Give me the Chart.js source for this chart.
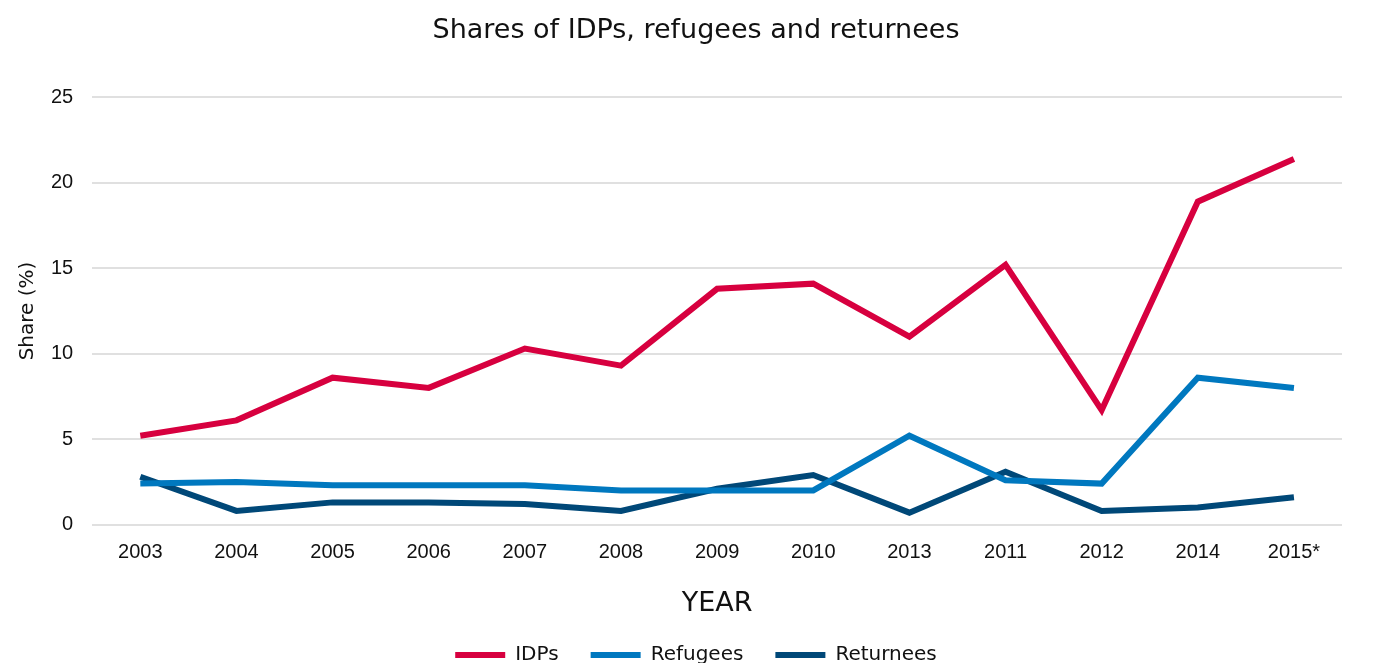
<!DOCTYPE html>
<html>
<head>
<meta charset="utf-8">
<script src="https://cdn.jsdelivr.net/npm/chart.js@4"></script>
<style>
  html, body { margin: 0; padding: 0; background: #ffffff; }
  #wrap { width: 1378px; height: 663px; }
</style>
</head>
<body>
<div id="wrap"><canvas id="chart"></canvas></div>
<script>
// Survey years, in the order they are reported
const years = ['2003', '2004', '2005', '2006', '2007', '2008', '2009', '2010', '2013', '2011', '2012', '2014', '2015*'];

// Share of each group (%)
const idps      = [5.2, 6.1, 8.6, 8.0, 10.3, 9.3, 13.8, 14.1, 11.0, 15.2, 6.7, 18.9, 21.4];
const refugees  = [2.4, 2.5, 2.3, 2.3, 2.3, 2.0, 2.0, 2.0, 5.2, 2.6, 2.4, 8.6, 8.0];
const returnees = [2.8, 0.8, 1.3, 1.3, 1.2, 0.8, 2.1, 2.9, 0.7, 3.1, 0.8, 1.0, 1.6];

const yTicks = [0, 5, 10, 15, 20, 25];

const COLORS = { idps: '#d7003f', refugees: '#0078bf', returnees: '#004878' };
const sansTitle = '"DejaVu Sans", Verdana, sans-serif';
const sansTick = '"Liberation Sans", Arial, sans-serif';

function series(label, data, color) {
  return {
    label, data,
    borderColor: color,
    backgroundColor: color,
    borderWidth: 6,
    pointRadius: 0,
    pointHoverRadius: 0,
    tension: 0,
    fill: false,
    borderJoinStyle: 'miter',
    borderCapStyle: 'butt'
  };
}

new Chart(document.getElementById('chart'), {
  type: 'line',
  data: {
    labels: years,
    datasets: [
      series('IDPs', idps, COLORS.idps),
      series('Refugees', refugees, COLORS.refugees),
      series('Returnees', returnees, COLORS.returnees)
    ]
  },
  options: {
    responsive: true,
    maintainAspectRatio: false,
    animation: false,
    layout: { padding: { left: 14, right: 0, top: 0, bottom: -12 } },
    plugins: {
      title: {
        display: true,
        text: 'Shares of IDPs, refugees and returnees',
        color: '#111111',
        font: { family: sansTitle, size: 27, weight: 'normal' },
        padding: { top: 15, bottom: 50 }
      },
      legend: {
        position: 'bottom',
        labels: {
          color: '#111111',
          font: { family: sansTitle, size: 20 },
          boxWidth: 50,
          boxHeight: 6,
          padding: 32,
          generateLabels(chart) {
            return chart.data.datasets.map((ds, i) => ({
              text: ds.label,
              fillStyle: ds.borderColor,
              strokeStyle: ds.borderColor,
              lineWidth: 0,
              hidden: false,
              datasetIndex: i,
              fontColor: '#111111'
            }));
          }
        }
      },
      tooltip: { enabled: false }
    },
    scales: {
      x: {
        offset: true,
        grid: { display: false, drawTicks: false },
        border: { display: false },
        ticks: {
          color: '#111111',
          font: { family: sansTick, size: 20 },
          padding: 16,
          maxRotation: 0,
          autoSkip: false
        },
        title: {
          display: true,
          text: 'YEAR',
          color: '#111111',
          font: { family: sansTitle, size: 27, weight: 'normal' },
          padding: { top: 7, bottom: -7 }
        }
      },
      y: {
        min: yTicks[0],
        max: yTicks[yTicks.length - 1],
        afterBuildTicks(scale) { scale.ticks = yTicks.map(v => ({ value: v })); },
        grid: { color: '#e0e0e0', lineWidth: 2, drawTicks: false },
        border: { display: false },
        ticks: {
          color: '#111111',
          font: { family: sansTick, size: 20 },
          padding: 19
        },
        title: {
          display: true,
          text: 'Share (%)',
          color: '#111111',
          font: { family: sansTitle, size: 20 },
          padding: { top: 2, bottom: -8 }
        }
      },
      // empty right-hand margin beside the plot
      gutter: {
        type: 'linear',
        position: 'right',
        display: true,
        grid: { display: false, drawTicks: false },
        border: { display: false },
        ticks: { display: false },
        afterFit(scale) { scale.width = 36; }
      }
    }
  }
});
</script>
</body>
</html>
